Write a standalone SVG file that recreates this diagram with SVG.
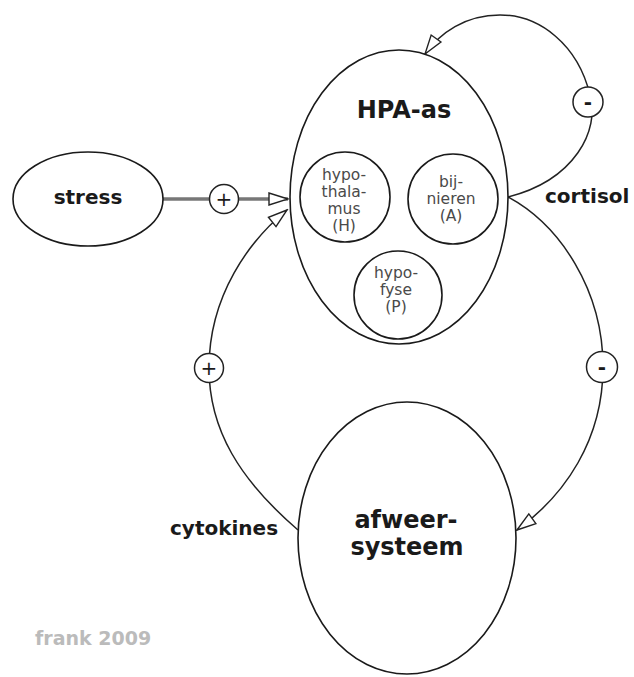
<svg xmlns="http://www.w3.org/2000/svg" width="634" height="677" viewBox="0 0 634 677">
<style>
.node{fill:#fff;stroke:#1a1a1a;stroke-width:1.6}
.conn{fill:none;stroke:#222;stroke-width:1.5}
.thick{fill:none;stroke:#777;stroke-width:3.5}
.big{font-family:"DejaVu Sans",sans-serif;font-weight:bold;font-size:24px;fill:#1a1a1a;text-anchor:middle}
.lbl{font-family:"DejaVu Sans",sans-serif;font-weight:bold;font-size:20px;fill:#1a1a1a}
.small{font-family:"DejaVu Sans",sans-serif;font-size:15.5px;fill:#4a4a4a;text-anchor:middle}
.sign{fill:#fff;stroke:#222;stroke-width:1.5}
.plus{font-family:"DejaVu Sans",sans-serif;font-size:20px;fill:#1a1a1a;text-anchor:middle}
.minus{font-family:"DejaVu Sans",sans-serif;font-weight:bold;font-size:20px;fill:#1a1a1a;text-anchor:middle}
</style>
<defs>
<marker id="arr" viewBox="-21 -8 23 16" refX="0" refY="0" markerWidth="23" markerHeight="16" markerUnits="userSpaceOnUse" orient="auto">
<path d="M0,0 L-19,-6 L-19,6 Z" fill="#fff" stroke="#222" stroke-width="1.4" stroke-linejoin="miter"/>
</marker>
</defs>
<g id="connectors">
<path class="thick" d="M163,199 L288,199" marker-end="url(#arr)"/>
<path class="conn" d="M298,530 C240,480 209,430 209,368 C209,295 250,240 287,210" marker-end="url(#arr)"/>
<path class="conn" d="M508,197 C575,180 600,130 590,95 C578,45 540,15 500,15 C465,15 440,33 425,54" marker-end="url(#arr)"/>
<path class="conn" d="M508,197 C560,225 603,290 603,367 C603,440 565,495 517,530" marker-end="url(#arr)"/>
<g id="sign-stress"><circle class="sign" cx="224" cy="199" r="14.5"/><text class="plus" x="224" y="206">+</text></g>
<g id="sign-cytokines"><circle class="sign" cx="209" cy="368" r="14.5"/><text class="plus" x="209" y="375">+</text></g>
<g id="sign-loop"><circle class="sign" cx="588" cy="102" r="15"/><text class="minus" x="588" y="109">-</text></g>
<g id="sign-right"><circle class="sign" cx="602" cy="367" r="15.5"/><text class="minus" x="602" y="374">-</text></g>
</g>
<g id="stress">
<ellipse class="node" cx="88" cy="199" rx="75" ry="47"/>
<text class="big" x="88" y="204" style="font-size:20px">stress</text>
</g>
<g id="hpa">
<ellipse class="node" cx="399" cy="197" rx="109" ry="147"/>
<text class="big" x="404" y="118">HPA-as</text>
</g>
<g id="hypothalamus">
<circle class="node" cx="345" cy="197" r="45"/>
<text class="small" x="344" y="180">hypo-</text>
<text class="small" x="344" y="197">thala-</text>
<text class="small" x="344" y="214">mus</text>
<text class="small" x="344" y="231">(H)</text>
</g>
<g id="bijnieren">
<circle class="node" cx="453" cy="199" r="45"/>
<text class="small" x="451" y="187">bij-</text>
<text class="small" x="451" y="204">nieren</text>
<text class="small" x="451" y="221">(A)</text>
</g>
<g id="hypofyse">
<circle class="node" cx="398" cy="295" r="44"/>
<text class="small" x="396" y="278">hypo-</text>
<text class="small" x="396" y="295">fyse</text>
<text class="small" x="396" y="312">(P)</text>
</g>
<g id="afweer">
<ellipse class="node" cx="407" cy="538" rx="109" ry="136"/>
<text class="big" x="406" y="528">afweer-</text>
<text class="big" x="407" y="555">systeem</text>
</g>
<text class="lbl" x="545" y="203">cortisol</text>
<text class="lbl" x="170" y="535">cytokines</text>
<text x="35" y="645" style="font-family:'DejaVu Sans',sans-serif;font-weight:bold;font-size:19px;fill:#bbb">frank 2009</text>
</svg>
